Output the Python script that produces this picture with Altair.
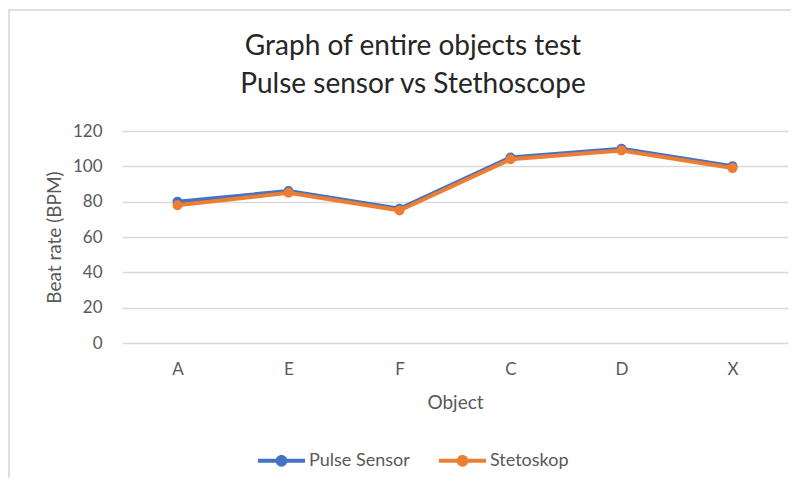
import altair as alt
import pandas as pd

objects = ["A", "E", "F", "C", "D", "X"]
pulse = [80, 86, 76, 105, 110, 100]
steto = [78, 85, 75, 104, 109, 99]
series = ["Pulse Sensor", "Stetoskop"]
colors = ["#4472C4", "#ED7D31"]

rows = []
for name, vals in zip(series, [pulse, steto]):
    for o, v in zip(objects, vals):
        rows.append({"Object": o, "Beat": v, "Series": name})
df = pd.DataFrame(rows)

FONT = "Lato"
sym = ("M-1,-0.085 L1,-0.085 L1,0.085 L-1,0.085 Z "
       "M0.25,0 A0.25,0.25 0 1,1 -0.25,0 A0.25,0.25 0 1,1 0.25,0 Z")

x = alt.X("Object:N", sort=objects, title="Object",
          scale=alt.Scale(type="point", padding=0.5),
          axis=alt.Axis(labelAngle=0, domain=False, ticks=False, grid=False,
                        labelPadding=18, titlePadding=16))
y = alt.Y("Beat:Q", title="Beat rate (BPM)",
          scale=alt.Scale(domain=[0, 120], nice=False),
          axis=alt.Axis(values=[0, 20, 40, 60, 80, 100, 120], domain=False,
                        ticks=False, labelPadding=20, titlePadding=8))
color = alt.Color("Series:N", scale=alt.Scale(domain=series, range=colors),
                  legend=alt.Legend(title=None, orient="none", direction="horizontal",
                                    legendX=136, legendY=306, symbolType=sym,
                                    symbolSize=2209, symbolStrokeWidth=0,
                                    labelOffset=4, columnPadding=29))

layers = []
for name in series:
    base = alt.Chart(df).transform_filter(alt.datum.Series == name)
    layers.append(base.mark_line(strokeWidth=4).encode(x=x, y=y, color=color))
    layers.append(base.mark_point(filled=True, size=100, opacity=1).encode(x=x, y=y, color=color))

bg = alt.Chart(pd.DataFrame({"a": [0]})).mark_rect(
    fillOpacity=0, stroke="#d4d4d4", strokeWidth=1.5, clip=False
).encode(x=alt.value(-113), x2=alt.value(760), y=alt.value(-121), y2=alt.value(400))

chart = alt.layer(bg, *layers).properties(
    width=666, height=212,
    autosize=alt.AutoSizeParams(type="none"),
    padding={"left": 114, "top": 123, "right": 3, "bottom": 135},
    title=alt.Title(["Graph of entire objects test", "Pulse sensor vs Stethoscope"],
                    font=FONT, fontSize=28, fontWeight="normal", color="#262626",
                    anchor="middle", dx=-42, offset=-90, lineHeight=38),
).configure_axis(
    labelFont=FONT, labelFontSize=17, labelColor="#595959",
    titleFont=FONT, titleFontSize=19, titleColor="#595959", titleFontWeight="normal",
    gridColor="#d9d9d9", gridWidth=1.5,
).configure_legend(
    labelFont=FONT, labelFontSize=18, labelColor="#595959",
).configure_view(stroke=None)

chart.save("out.html", embed_options={"renderer": "svg", "actions": False})
